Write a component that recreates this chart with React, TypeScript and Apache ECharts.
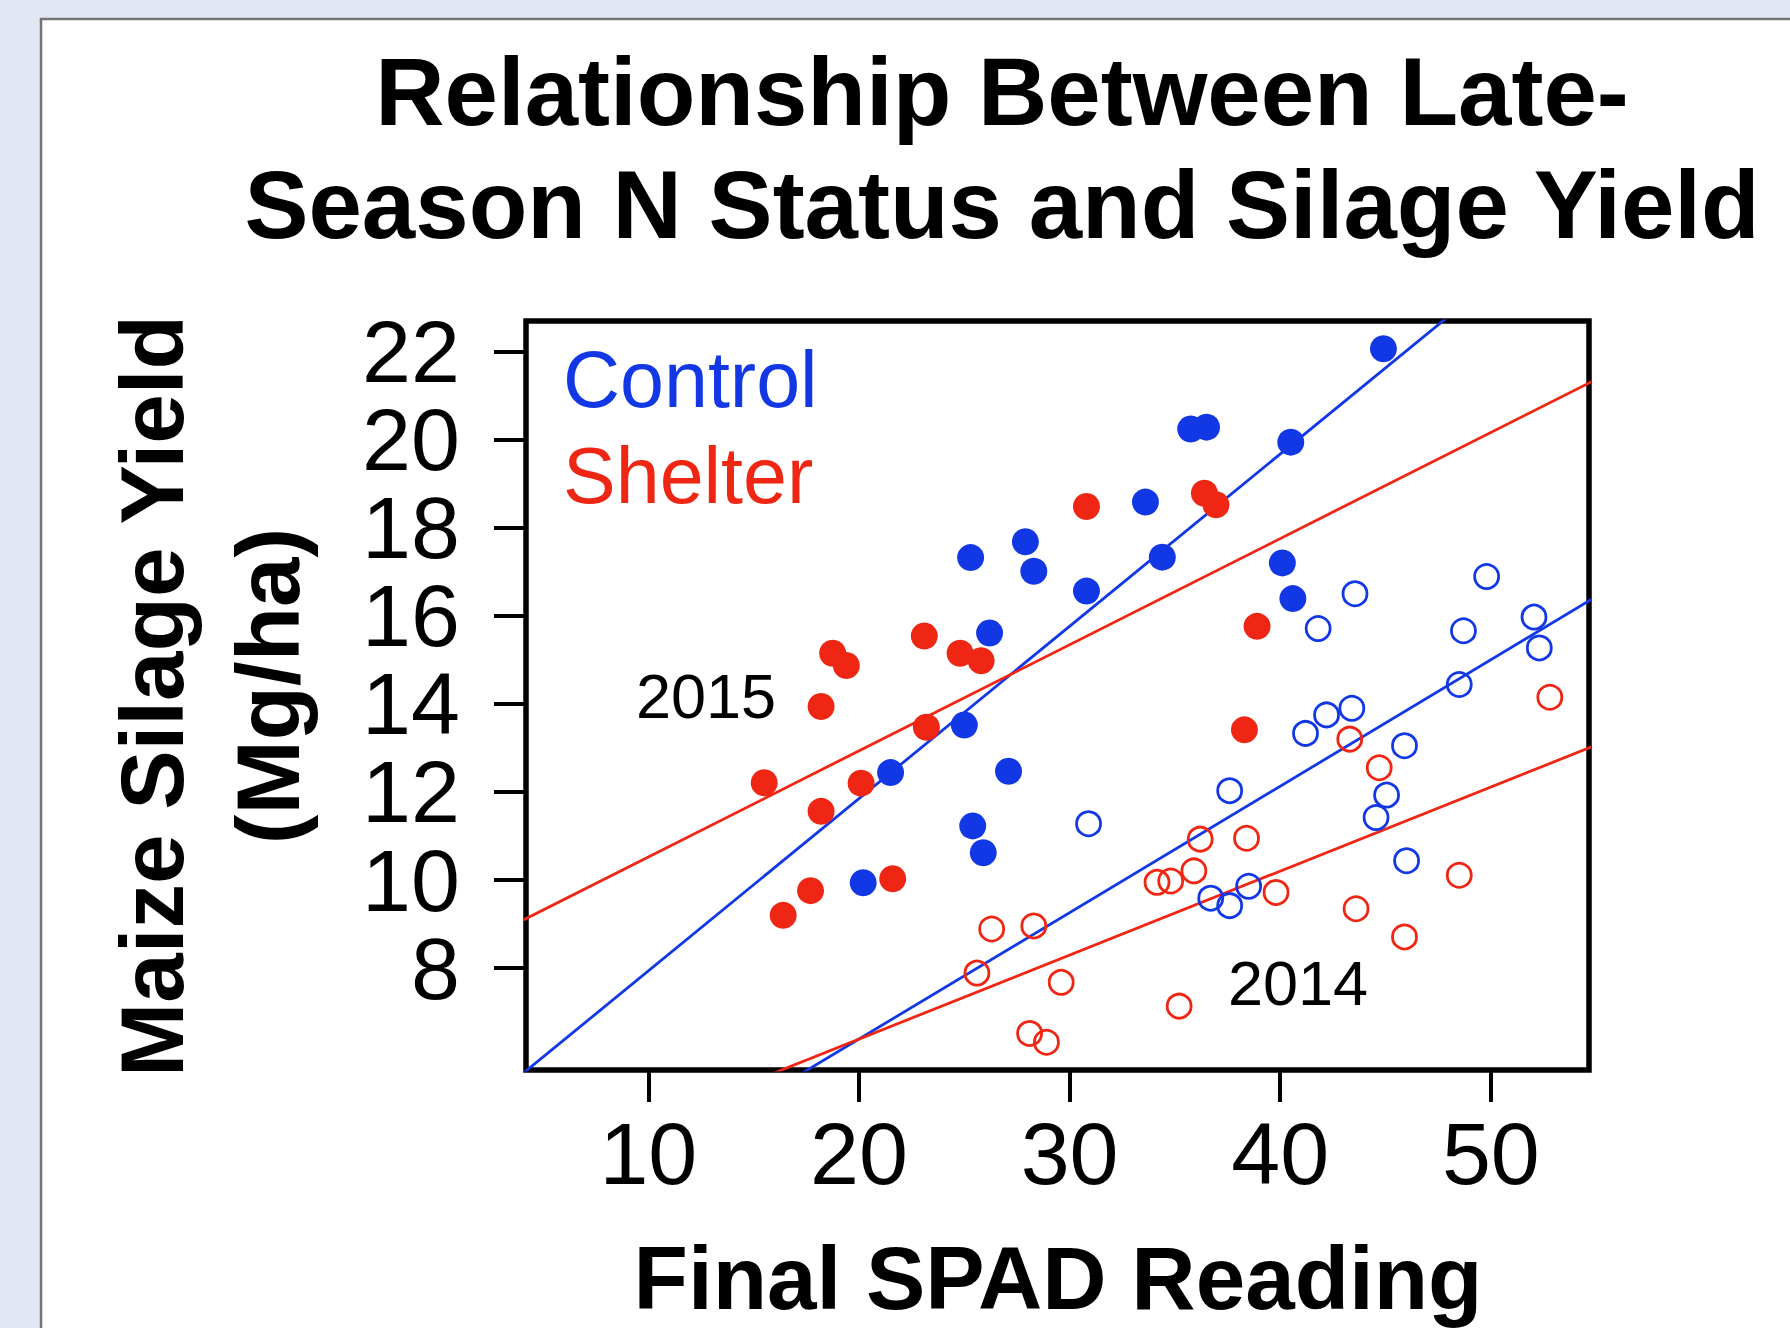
import React, { useEffect, useRef } from "react";
import * as echarts from "echarts";

// ---- Data ----
const control2015X = [44.9, 35.75, 36.5, 40.5, 33.6, 27.9, 25.3, 28.3, 34.4, 30.8, 40.1, 40.6, 26.2, 25.0, 21.5, 27.1, 25.4, 25.9, 20.2];
const control2015Y = [22.06, 20.24, 20.28, 19.94, 18.58, 17.68, 17.32, 17.01, 17.33, 16.56, 17.2, 16.39, 15.61, 13.52, 12.44, 12.47, 11.23, 10.62, 9.94];

const shelter2015X = [30.8, 36.4, 36.95, 18.75, 19.4, 23.1, 24.8, 25.8, 18.2, 23.2, 15.5, 20.1, 18.2, 17.7, 16.4, 21.6, 38.9, 38.3];
const shelter2015Y = [18.48, 18.78, 18.52, 15.15, 14.87, 15.54, 15.15, 14.98, 13.94, 13.47, 12.21, 12.2, 11.56, 9.76, 9.2, 10.03, 15.76, 13.41];

const control2014X = [49.8, 43.55, 41.8, 48.7, 52.05, 52.3, 48.5, 41.2, 42.2, 43.4, 45.9, 37.6, 30.9, 45.05, 44.55, 46.0, 36.7, 37.6, 38.5];
const control2014Y = [16.89, 16.5, 15.71, 15.66, 15.97, 15.27, 14.44, 13.33, 13.75, 13.9, 13.05, 12.03, 11.28, 11.93, 11.42, 10.44, 9.59, 9.42, 9.86];

const shelter2014X = [52.8, 43.3, 44.7, 36.2, 38.4, 34.15, 34.8, 35.9, 39.8, 48.5, 43.6, 45.9, 26.3, 28.3, 25.6, 29.6, 35.2, 28.1, 28.9];
const shelter2014Y = [14.15, 13.2, 12.55, 10.93, 10.95, 9.95, 9.98, 10.21, 9.72, 10.11, 9.35, 8.71, 8.89, 8.96, 7.89, 7.68, 7.14, 6.52, 6.32];

// fitted lines: [intercept, slope]
const fitControl2015 = [4.03, 0.391];
const fitShelter2015 = [8.116, 0.2409];
const fitControl2014 = [0.655, 0.2869];
const fitShelter2014 = [2.577, 0.1907];

const xTicks = [10, 20, 30, 40, 50];
const yTicks = [8, 10, 12, 14, 16, 18, 20, 22];

const titleLines = ["Relationship Between Late-", "Season N Status and Silage Yield"];
const yTitleLines = ["Maize Silage Yield", "(Mg/ha)"];
const xTitle = "Final SPAD Reading";
const legendLabels = ["Control", "Shelter"];
const yearLabels = ["2015", "2014"];

const X_MIN = 4.19;
const X_MAX = 54.66;
const Y_MIN = 5.69;
const Y_MAX = 22.69;

const BLUE = "#1238e6";
const RED = "#ef2613";
const FONT = '"Liberation Sans", Arial, Helvetica, sans-serif';

const zip = (xs: number[], ys: number[]) => xs.map((x, i) => [x, ys[i]]);
const fitLine = (f: number[]) => [
  [X_MIN - 2, f[0] + f[1] * (X_MIN - 2)],
  [X_MAX + 2, f[0] + f[1] * (X_MAX + 2)],
];

export default function App() {
  const ref = useRef<HTMLDivElement>(null);

  useEffect(() => {
    if (!ref.current) return;
    const chart = echarts.init(ref.current, undefined, { renderer: "svg" });

    const lineSeries = (name: string, f: number[], color: string) => ({
      name,
      type: "line",
      data: fitLine(f),
      symbol: "none",
      clip: true,
      z: 1,
      lineStyle: { color, width: 2.8 },
      silent: true,
    });

    const text = (
      x: number,
      y: number,
      str: string,
      size: number,
      opts: any = {}
    ) => ({
      type: "text",
      x,
      y,
      rotation: opts.rotation || 0,
      style: {
        text: str,
        fontSize: size,
        fontWeight: opts.bold ? "bold" : "normal",
        fontFamily: FONT,
        fill: opts.color || "#000",
        align: opts.align || "center",
        verticalAlign: "middle",
      },
    });

    const option: any = {
      animation: false,
      backgroundColor: "#e1e8f3",
      grid: {
        left: 526,
        top: 321,
        width: 1063,
        height: 749,
        show: true,
        borderColor: "#000",
        borderWidth: 5.5,
        backgroundColor: "#ffffff",
        containLabel: false,
      },
      xAxis: {
        type: "value",
        min: X_MIN,
        max: X_MAX,
        axisLine: { show: false },
        splitLine: { show: false },
        axisTick: {
          show: true,
          customValues: xTicks,
          length: 32,
          lineStyle: { color: "#000", width: 4 },
        },
        axisLabel: {
          show: true,
          customValues: xTicks,
          margin: 48,
          fontSize: 88,
          lineHeight: 70,
          color: "#000",
          fontFamily: FONT,
        },
      },
      yAxis: {
        type: "value",
        min: Y_MIN,
        max: Y_MAX,
        axisLine: { show: false },
        splitLine: { show: false },
        axisTick: {
          show: true,
          customValues: yTicks,
          length: 32,
          lineStyle: { color: "#000", width: 4 },
        },
        axisLabel: {
          show: true,
          customValues: yTicks,
          margin: 66,
          fontSize: 88,
          lineHeight: 70,
          color: "#000",
          fontFamily: FONT,
        },
      },
      graphic: [
        {
          type: "rect",
          z: -10,
          silent: true,
          shape: { x: 41, y: 19, width: 1800, height: 1400 },
          style: { fill: "#ffffff", stroke: "#747474", lineWidth: 2.5 },
        },
        text(1002, 91, titleLines[0], 96, { bold: true }),
        text(1002, 204, titleLines[1], 96, { bold: true }),
        text(152, 696, yTitleLines[0], 89, { bold: true, rotation: Math.PI / 2 }),
        text(268, 686, yTitleLines[1], 89, { bold: true, rotation: Math.PI / 2 }),
        text(1058, 1278, xTitle, 89, { bold: true }),
        text(563, 379, legendLabels[0], 79, { align: "left", color: BLUE }),
        text(563, 475, legendLabels[1], 79, { align: "left", color: RED }),
        text(706, 696, yearLabels[0], 63),
        text(1298, 983, yearLabels[1], 63),
      ],
      series: [
        lineSeries("Control 2015 fit", fitControl2015, BLUE),
        lineSeries("Shelter 2015 fit", fitShelter2015, RED),
        lineSeries("Control 2014 fit", fitControl2014, BLUE),
        lineSeries("Shelter 2014 fit", fitShelter2014, RED),
        {
          name: "Control 2015",
          type: "scatter",
          data: zip(control2015X, control2015Y),
          symbol: "circle",
          symbolSize: 27,
          z: 3,
          itemStyle: { color: BLUE, opacity: 1 },
        },
        {
          name: "Shelter 2015",
          type: "scatter",
          data: zip(shelter2015X, shelter2015Y),
          symbol: "circle",
          symbolSize: 27,
          z: 3,
          itemStyle: { color: RED, opacity: 1 },
        },
        {
          name: "Control 2014",
          type: "scatter",
          data: zip(control2014X, control2014Y),
          symbol: "circle",
          symbolSize: 24,
          z: 3,
          itemStyle: { color: "rgba(255,255,255,0)", borderColor: BLUE, borderWidth: 2.8, opacity: 1 },
        },
        {
          name: "Shelter 2014",
          type: "scatter",
          data: zip(shelter2014X, shelter2014Y),
          symbol: "circle",
          symbolSize: 24,
          z: 3,
          itemStyle: { color: "rgba(255,255,255,0)", borderColor: RED, borderWidth: 2.8, opacity: 1 },
        },
      ],
    };

    chart.setOption(option);
    return () => {
      chart.dispose();
    };
  }, []);

  return (
    <div
      ref={ref}
      style={{ position: "absolute", left: 0, top: 0, width: 1790, height: 1328 }}
    />
  );
}
